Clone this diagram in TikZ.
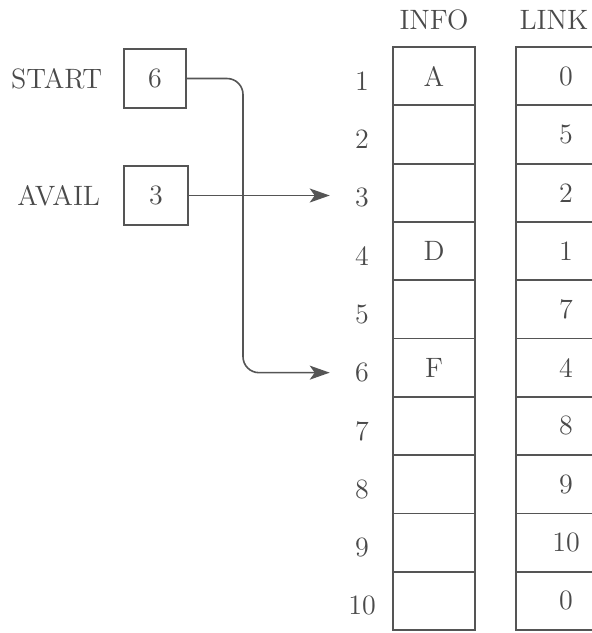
\documentclass[tikz,border=0pt]{standalone}
\usetikzlibrary{arrows.meta,positioning,calc}
\definecolor{ink}{HTML}{4A4A4A}
\definecolor{rule}{HTML}{555555}

\begin{document}
\begin{tikzpicture}[x=0.5pt, y=-0.5pt,
    every node/.style={font=\fontsize{14}{16}\selectfont, text=ink},
    cell/.style={draw=rule, line width=0.9pt, minimum width=41pt, minimum height=29.15pt, inner sep=0pt},
    regbox/.style={draw=rule, line width=0.9pt, minimum width=31pt, minimum height=29.5pt, inner sep=0pt},
    idx/.style={inner sep=0pt},
    pointer/.style={draw=rule, line width=0.8pt, -{Stealth[length=10pt, width=7pt, inset=2.5pt]}, shorten >=12.5pt}]
  \fill[white] (0,0) rectangle (591,633);
  \useasboundingbox (0,0) rectangle (591,633);

  % column headers
  \node (infohead) at (434,20) {INFO};
  \node (linkhead) at (554,20) {LINK};

  % the array, one row per node
  \foreach \i/\info/\link in {1/A/0, 2//5, 3//2, 4/D/1, 5//7, 6/F/4, 7//8, 8//9, 9//10, 10//0} {
    \node[cell] (info\i) at (434, {47+(\i-0.5)*58.3}) {\info};
    \node[cell, minimum width=50pt] (link\i) at (566, {47+(\i-0.5)*58.3}) {\link};
    \node[idx] (num\i) at (362, {52+(\i-0.5)*58.3}) {\i};
  }

  % START and AVAIL pointers
  \node[regbox] (start) at (155,78.5) {6};
  \node[left=7pt of start] (startlabel) {START};
  \node[regbox, minimum width=32pt] (avail) at (156,195.5) {3};
  \node[left=8pt of avail] (availlabel) {AVAIL};

  \coordinate (drop) at (243,0);
  \draw[pointer, rounded corners=8pt] (start.east) -| (drop |- num6.west) -- (num6.west);
  \draw[pointer] (avail.east) -- (avail.east -| num3.west);
\end{tikzpicture}
\end{document}
